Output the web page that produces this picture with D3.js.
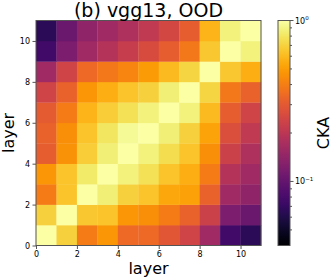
<!DOCTYPE html>
<html>
<head>
<meta charset="utf-8">
<script src="https://cdn.jsdelivr.net/npm/d3@7"></script>
<style>
body { margin: 0; background: #fff; }
text { font-family: "DejaVu Sans", sans-serif; fill: #000; }
</style>
</head>
<body>
<div id="chart"></div>
<script>
// layer index on both axes
const layers = [0, 1, 2, 3, 4, 5, 6, 7, 8, 9, 10];

// CKA values, one row per y-layer (row 0 = bottom)
const ckaRows = [
    [1.00, 0.70, 0.39, 0.48, 0.34, 0.34, 0.29, 0.24, 0.16, 0.076, 0.065],
    [0.70, 1.00, 0.66, 0.64, 0.48, 0.45, 0.39, 0.32, 0.23, 0.12, 0.105],
    [0.39, 0.64, 1.00, 0.85, 0.70, 0.64, 0.54, 0.51, 0.32, 0.16, 0.14],
    [0.48, 0.64, 0.82, 1.00, 0.88, 0.77, 0.64, 0.56, 0.39, 0.19, 0.16],
    [0.31, 0.46, 0.68, 0.85, 1.00, 0.88, 0.75, 0.64, 0.45, 0.23, 0.18],
    [0.32, 0.45, 0.64, 0.80, 0.94, 1.00, 0.85, 0.70, 0.52, 0.27, 0.21],
    [0.30, 0.39, 0.58, 0.68, 0.77, 0.88, 1.00, 0.88, 0.60, 0.31, 0.24],
    [0.24, 0.32, 0.48, 0.56, 0.64, 0.70, 0.85, 1.00, 0.72, 0.38, 0.32],
    [0.16, 0.24, 0.34, 0.38, 0.42, 0.49, 0.60, 0.72, 1.00, 0.66, 0.56],
    [0.076, 0.12, 0.16, 0.19, 0.22, 0.26, 0.31, 0.38, 0.66, 1.00, 0.88],
    [0.065, 0.105, 0.14, 0.16, 0.18, 0.21, 0.25, 0.31, 0.58, 0.88, 1.00]
];

const layerTicks = [0, 2, 4, 6, 8, 10];
const cbarMajor = [1, 0.1];
const cbarMajorExp = ["0", "\u22121"];
const cbarMinor = [0.05, 0.06, 0.07, 0.08, 0.09, 0.2, 0.3, 0.4, 0.5, 0.6, 0.7, 0.8, 0.9];
const cbarDomain = [0.04, 1];

const width = 332, height = 280;
const plotTop = 20.5, plotBottom = 245.5;

const svg = d3.select("#chart")
    .append("svg")
    .attr("width", width)
    .attr("height", height);

const x = d3.scaleLinear().domain([0, 11]).range([36, 261]);
const y = d3.scaleLinear().domain([0, 11]).range([plotBottom, plotTop]);
const color = d3.scaleSequentialLog(d3.interpolateInferno).domain(cbarDomain);

// heatmap cells
const cells = [];
ckaRows.forEach((row, j) => row.forEach((v, i) => cells.push({ i: layers[i], j: layers[j], v: v })));

svg.append("g")
    .selectAll("rect")
    .data(cells)
    .join("rect")
    .attr("x", d => x(d.i))
    .attr("y", d => y(d.j + 1))
    .attr("width", x(1) - x(0) + 0.3)
    .attr("height", y(0) - y(1) + 0.3)
    .attr("fill", d => color(d.v));

svg.append("rect")
    .attr("x", x(0))
    .attr("y", y(11))
    .attr("width", x(11) - x(0))
    .attr("height", y(0) - y(11))
    .attr("fill", "none")
    .attr("stroke", "#555")
    .attr("stroke-width", 1);

// axes
const xAxis = svg.append("g")
    .attr("transform", `translate(0,${plotBottom})`)
    .call(d3.axisBottom(x).tickValues(layerTicks).tickSize(3.5).tickPadding(2.5).tickSizeOuter(0));

const yAxis = svg.append("g")
    .attr("transform", `translate(${x(0)},0)`)
    .call(d3.axisLeft(y).tickValues(layerTicks).tickSize(3.5).tickPadding(2.5).tickSizeOuter(0));

[xAxis, yAxis].forEach(a => {
    a.select(".domain").remove();
    a.selectAll(".tick line").attr("stroke", "#555");
    a.selectAll(".tick text").attr("font-size", "8px").attr("font-family", "DejaVu Sans");
});

// title and labels
svg.append("text")
    .attr("x", (x(0) + x(11)) / 2)
    .attr("y", 17)
    .attr("text-anchor", "middle")
    .attr("font-size", "19px")
    .text("(b) vgg13, OOD");

svg.append("text")
    .attr("x", (x(0) + x(11)) / 2)
    .attr("y", 274)
    .attr("text-anchor", "middle")
    .attr("font-size", "16px")
    .text("layer");

svg.append("text")
    .attr("transform", `translate(14,${(plotTop + plotBottom) / 2}) rotate(-90)`)
    .attr("text-anchor", "middle")
    .attr("font-size", "16px")
    .text("layer");

// colorbar
const cbX = 278, cbW = 12;
const cy = d3.scaleLog().domain(cbarDomain).range([plotBottom, plotTop]);

const defs = svg.append("defs");
const gradient = defs.append("linearGradient")
    .attr("id", "cka-gradient")
    .attr("x1", "0%").attr("y1", "100%")
    .attr("x2", "0%").attr("y2", "0%");

gradient.selectAll("stop")
    .data(d3.range(0, 1.001, 0.02))
    .join("stop")
    .attr("offset", d => `${d * 100}%`)
    .attr("stop-color", d => color(cy.invert(plotBottom - d * (plotBottom - plotTop))));

svg.append("rect")
    .attr("x", cbX)
    .attr("y", plotTop)
    .attr("width", cbW)
    .attr("height", plotBottom - plotTop)
    .attr("fill", "url(#cka-gradient)")
    .attr("stroke", "#555")
    .attr("stroke-width", 1);

const cbar = svg.append("g");

cbar.selectAll(".minor")
    .data(cbarMinor)
    .join("line")
    .attr("class", "minor")
    .attr("x1", cbX + cbW)
    .attr("x2", cbX + cbW + 2)
    .attr("y1", d => cy(d))
    .attr("y2", d => cy(d))
    .attr("stroke", "#555");

cbar.selectAll(".major")
    .data(cbarMajor)
    .join("line")
    .attr("class", "major")
    .attr("x1", cbX + cbW)
    .attr("x2", cbX + cbW + 3.5)
    .attr("y1", d => cy(d))
    .attr("y2", d => cy(d))
    .attr("stroke", "#555");

const majorLabels = cbar.selectAll(".lbl")
    .data(cbarMajor)
    .join("text")
    .attr("class", "lbl")
    .attr("x", cbX + cbW + 5)
    .attr("y", d => cy(d) + 3)
    .attr("font-size", "8px")
    .text("10");

majorLabels.append("tspan")
    .attr("dy", -3.5)
    .attr("font-size", "5.5px")
    .text((d, i) => cbarMajorExp[i]);

svg.append("text")
    .attr("transform", `translate(329,${(plotTop + plotBottom) / 2}) rotate(-90)`)
    .attr("text-anchor", "middle")
    .attr("font-size", "16px")
    .text("CKA");
</script>
</body>
</html>
